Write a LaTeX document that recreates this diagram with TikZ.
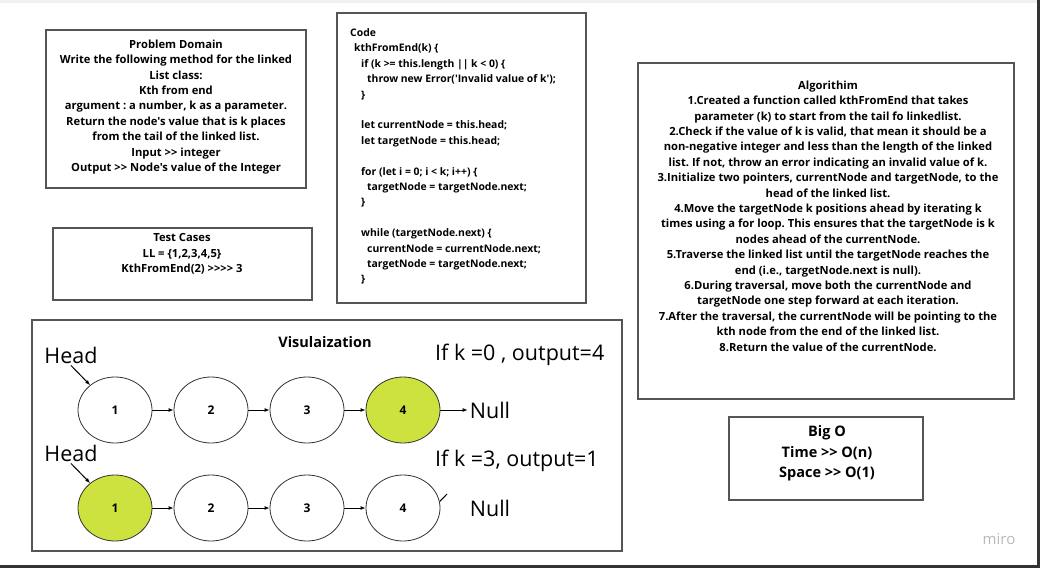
\documentclass[tikz,border=0pt]{standalone}
\usepackage{fontspec}
\setmainfont{Open Sans}[Ligatures=TeXOff]
\frenchspacing
\usetikzlibrary{shapes.geometric,arrows.meta}
\definecolor{lime}{RGB}{206,226,63}
\definecolor{edge}{RGB}{85,85,85}
\begin{document}
\begin{tikzpicture}[x=1pt,y=-1pt,>={Latex[length=5pt,width=4pt]}]
    \tikzstyle{block}=[draw=edge,line width=1.4pt]
    \tikzstyle{txt}=[align=center,inner sep=0,font=\bfseries\fontsize{11.2}{15.4}\selectfont]
    \tikzstyle{item}=[ellipse,draw=black!80,line width=0.8pt,minimum width=74pt,minimum height=66pt,inner sep=0,font=\bfseries\fontsize{12}{13}\selectfont]
    \tikzstyle{big}=[inner sep=2pt,font=\fontsize{21.5}{24}\selectfont]

    \useasboundingbox (0,0) rectangle (1041,569);
    \fill[gray!12] (0,0) rectangle (1038,3);
    \draw[black!80,line width=2.5pt] (1038.5,0) -- (1038.5,566.5) -- (0,566.5);

    % boxes
    \node[block,minimum width=260pt,minimum height=158pt] (problem_domain) at (176,109) {};
    \node[block,minimum width=259pt,minimum height=72pt] (test_cases) at (182.5,264) {};
    \node[block,minimum width=249pt,minimum height=290pt] (code) at (461.5,158) {};
    \node[block,minimum width=376pt,minimum height=336pt] (algorithm) at (826,231) {};
    \node[block,minimum width=194pt,minimum height=83pt] (big_o) at (826,458.5) {};
    \node[block,minimum width=590pt,minimum height=231pt] (visual) at (327,435.5) {};

    % texts
    \node[txt] (problem_text) at (176,107) {Problem Domain\\ Write the following method for the linked\\ List class:\\ Kth from end\\ argument : a number, k as a parameter.\\ Return the node's value that is k places\\ from the tail of the linked list.\\ Input >> integer\\ Output >> Node's value of the Integer};
    \node[txt] (test_text) at (182,254) {Test Cases\\ LL = \{1,2,3,4,5\}\\ KthFromEnd(2) >>>> 3};
    \node[txt,align=left,anchor=west,font=\bfseries\fontsize{10.4}{15.4}\selectfont] (code_text) at (350,156.5) {Code\\
        \hspace*{4pt}kthFromEnd(k) \{\\
        \hspace*{11pt}if (k >= this.length || k < 0) \{\\
        \hspace*{17pt}throw new Error('Invalid value of k');\\
        \hspace*{11pt}\}\\ \mbox{}\\
        \hspace*{11pt}let currentNode = this.head;\\
        \hspace*{11pt}let targetNode = this.head;\\ \mbox{}\\
        \hspace*{11pt}for (let i = 0; i < k; i++) \{\\
        \hspace*{17pt}targetNode = targetNode.next;\\
        \hspace*{11pt}\}\\ \mbox{}\\
        \hspace*{11pt}while (targetNode.next) \{\\
        \hspace*{17pt}currentNode = currentNode.next;\\
        \hspace*{17pt}targetNode = targetNode.next;\\
        \hspace*{11pt}\}};
    \node[txt] (algorithm_text) at (828,216) {Algorithim\\ 1.Created a function called kthFromEnd that takes\\ parameter (k) to start from the tail fo linkedlist.\\ 2.Check if the value of k is valid, that mean it should be a\\ non-negative integer and less than the length of the linked\\ list. If not, throw an error indicating an invalid value of k.\\ 3.Initialize two pointers, currentNode and targetNode, to the\\ head of the linked list.\\ 4.Move the targetNode k positions ahead by iterating k\\ times using a for loop. This ensures that the targetNode is k\\ nodes ahead of the currentNode.\\ 5.Traverse the linked list until the targetNode reaches the\\ end (i.e., targetNode.next is null).\\ 6.During traversal, move both the currentNode and\\ targetNode one step forward at each iteration.\\ 7.After the traversal, the currentNode will be pointing to the\\ kth node from the end of the linked list.\\ 8.Return the value of the currentNode.};
    \node[txt,font=\bfseries\fontsize{14.5}{20.5}\selectfont] (big_o_text) at (827,453.5) {Big O\\ Time >> O(n)\\ Space >> O(1)};
    \node[txt,font=\bfseries\fontsize{14.5}{16}\selectfont] (visual_title) at (325,342) {Visulaization};
    \node[text=gray!55,font=\fontsize{15}{17}\selectfont] (miro) at (999,539) {miro};

    % k = 0
    \node[big] (head_top) at (71,355) {Head};
    \node[big,anchor=west] (case_top) at (433,355) {If k =0 , output=4};
    \node[item] (n11) at (115,410) {1};
    \node[item] (n12) at (211,410) {2};
    \node[item] (n13) at (307,410) {3};
    \node[item,fill=lime] (n14) at (403,410) {4};
    \node[big] (null_top) at (490,410) {Null};
    \draw[->,line width=1pt] (head_top.south) -- (n11.135);
    \draw[->,line width=1pt] (n11) -- (n12);
    \draw[->,line width=1pt] (n12) -- (n13);
    \draw[->,line width=1pt] (n13) -- (n14);
    \draw[->,line width=1pt] (n14) -- (null_top);

    % k = 3
    \node[big] (head_bottom) at (71,453) {Head};
    \node[big,anchor=west] (case_bottom) at (433,461) {If k =3, output=1};
    \node[item,fill=lime] (n21) at (115,508) {1};
    \node[item] (n22) at (211,508) {2};
    \node[item] (n23) at (307,508) {3};
    \node[item] (n24) at (403,508) {4};
    \node[big] (null_bottom) at (490,508) {Null};
    \coordinate (stub) at (447,494);
    \draw[->,line width=1pt] (head_bottom.south) -- (n21.135);
    \draw[->,line width=1pt] (n21) -- (n22);
    \draw[->,line width=1pt] (n22) -- (n23);
    \draw[->,line width=1pt] (n23) -- (n24);
    \draw[line width=1pt] (n24.10) -- (stub);
\end{tikzpicture}
\end{document}
